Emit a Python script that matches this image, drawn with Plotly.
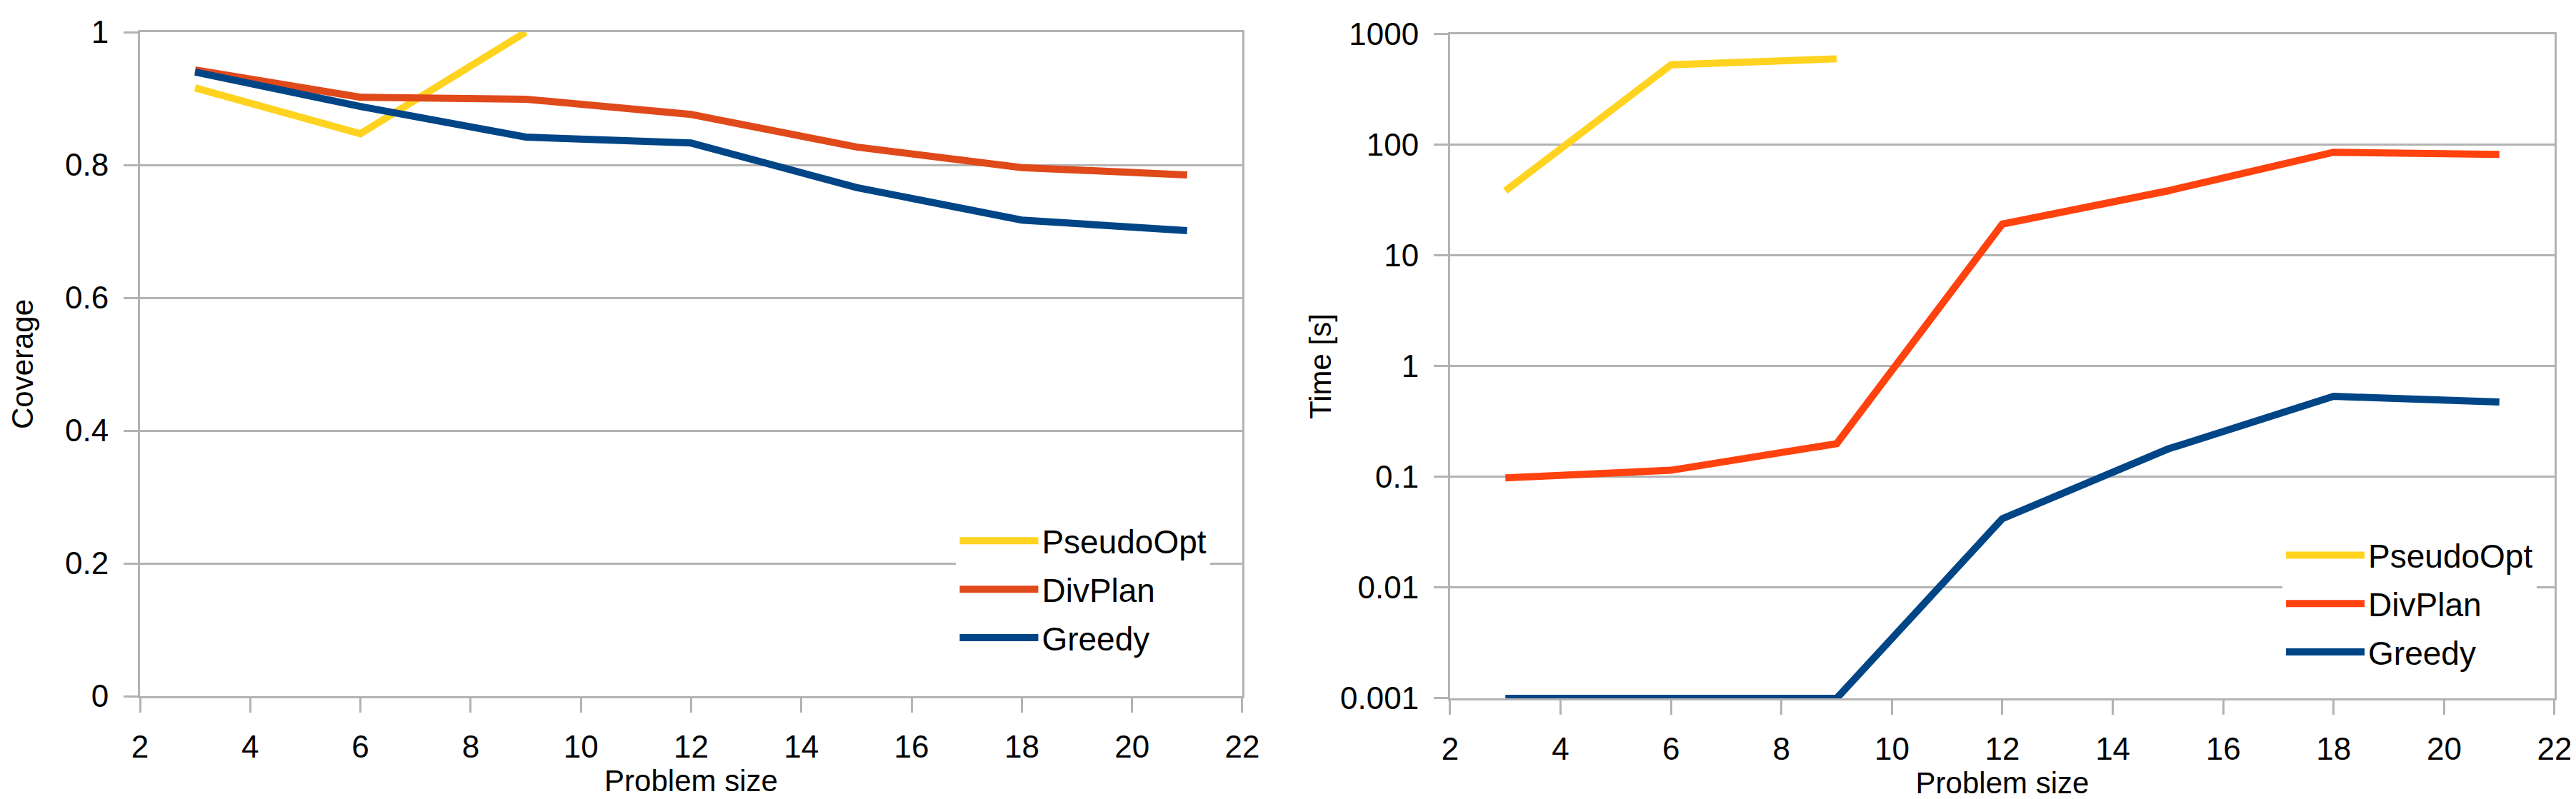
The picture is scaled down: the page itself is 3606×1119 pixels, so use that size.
import plotly.graph_objects as go
from plotly.subplots import make_subplots

# problem sizes
sizes = [3, 6, 9, 12, 15, 18, 21]
sizes_opt = [3, 6, 9]

# coverage (left panel)
cov_pseudoopt = [0.916, 0.847, 1.0]
cov_divplan = [0.943, 0.902, 0.899, 0.876, 0.827, 0.796, 0.785]
cov_greedy = [0.940, 0.888, 0.842, 0.833, 0.766, 0.717, 0.701]

# time in seconds (right panel)
time_pseudoopt = [38.5, 530, 600]
time_divplan = [0.098, 0.115, 0.20, 19.3, 38.5, 86, 82]
time_greedy = [0.001, 0.001, 0.001, 0.042, 0.179, 0.535, 0.475]

cov_ticks = [0, 0.2, 0.4, 0.6, 0.8, 1]
cov_ticklabels = ["0", "0.2", "0.4", "0.6", "0.8", "1"]
time_ticks = [0.001, 0.01, 0.1, 1, 10, 100, 1000]
time_ticklabels = ["0.001", "0.01", "0.1", "1", "10", "100", "1000"]

YELLOW = "#FFD320"
ORANGE_L = "#E0491A"
ORANGE_R = "#FF420E"
BLUE = "#004586"
GRID = "#B3B3B3"
FONT = "Liberation Sans"

fig = make_subplots(rows=1, cols=2)

def add(x, y, name, color, col, legend):
    fig.add_trace(go.Scatter(x=x, y=y, name=name, mode="lines",
                             line=dict(color=color, width=10),
                             legend=legend, legendgroup=name + legend),
                  row=1, col=col)

add(sizes_opt, cov_pseudoopt, "PseudoOpt", YELLOW, 1, "legend")
add(sizes, cov_divplan, "DivPlan", ORANGE_L, 1, "legend")
add(sizes, cov_greedy, "Greedy", BLUE, 1, "legend")
add(sizes_opt, time_pseudoopt, "PseudoOpt", YELLOW, 2, "legend2")
add(sizes, time_divplan, "DivPlan", ORANGE_R, 2, "legend2")
add(sizes, time_greedy, "Greedy", BLUE, 2, "legend2")

fig.update_xaxes(range=[2, 22], dtick=2, showgrid=False, zeroline=False,
                 showline=True, linecolor=GRID, linewidth=3, mirror=True,
                 ticks="outside", ticklen=20, tickwidth=3, tickcolor=GRID,
                 ticklabelstandoff=10, tickfont=dict(size=44, color="black"),
                 title=dict(text="Problem size", font=dict(size=42, color="black"),
                            standoff=0))
fig.update_xaxes(domain=[0, 0.4565], row=1, col=1)
fig.update_xaxes(domain=[0.5426, 1], row=1, col=2)

fig.update_yaxes(range=[0, 1], tickvals=cov_ticks, ticktext=cov_ticklabels,
                 domain=[0.0032, 1],
                 title=dict(text="Coverage", font=dict(size=42, color="black"), standoff=36),
                 row=1, col=1)
fig.update_yaxes(type="log", range=[-3, 3], tickvals=time_ticks, ticktext=time_ticklabels,
                 domain=[0, 0.9968],
                 title=dict(text="Time [s]", font=dict(size=42, color="black"), standoff=0),
                 row=1, col=2)
fig.update_yaxes(showgrid=True, gridcolor=GRID, gridwidth=3, zeroline=False,
                 showline=True, linecolor=GRID, linewidth=3, mirror=True,
                 ticks="outside", ticklen=20, tickwidth=3, tickcolor=GRID,
                 ticklabelstandoff=12, tickfont=dict(size=44, color="black"))

legend_style = dict(bgcolor="white", borderwidth=0, font=dict(size=46, color="black"),
                    itemwidth=110, tracegroupgap=5, xanchor="left", yanchor="top",
                    itemclick=False)
fig.update_layout(
    width=3606, height=1119,
    margin=dict(l=188, r=38, t=37, b=149),
    paper_bgcolor="white", plot_bgcolor="white",
    font=dict(family=FONT, color="black"),
    showlegend=True,
    legend=dict(x=0.338, y=0.2755, **legend_style),
    legend2=dict(x=0.8873, y=0.254, **legend_style),
)

fig.write_html("out.html")
